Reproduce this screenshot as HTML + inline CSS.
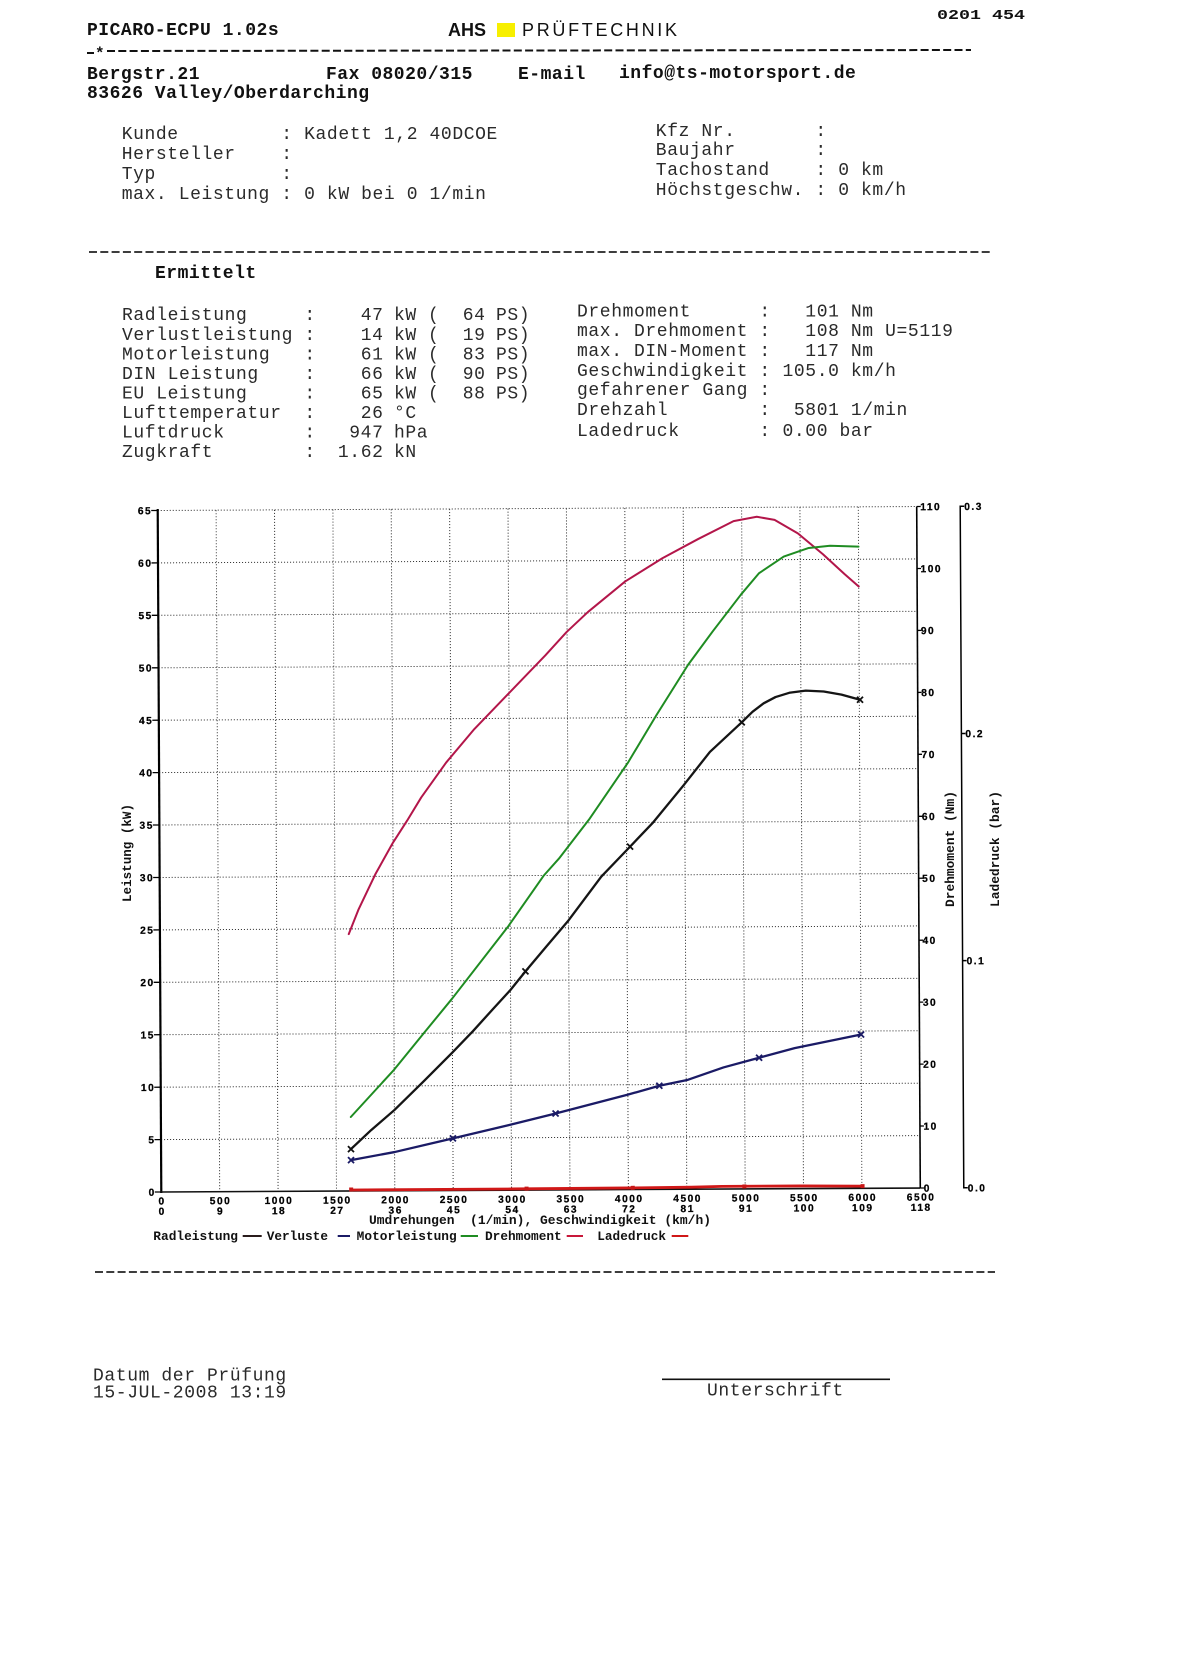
<!DOCTYPE html>
<html><head><meta charset="utf-8"><style>
html,body{margin:0;padding:0;background:#fff;}
svg{display:block;}
text{white-space:pre;}
.m{font-family:"Liberation Mono",monospace;font-size:18px;letter-spacing:0.6px;fill:#2a2a2a;}
.b{font-weight:bold;fill:#111;}
.t{font-family:"Liberation Sans",sans-serif;font-weight:bold;font-size:10.2px;letter-spacing:1.5px;fill:#000;stroke:#000;stroke-width:0.25px;}
.l{font-family:"Liberation Mono",monospace;font-weight:bold;font-size:12.8px;fill:#111;}
</style></head><body>
<svg width="1181" height="1660" viewBox="0 0 1181 1660" xmlns="http://www.w3.org/2000/svg">
<rect width="1181" height="1660" fill="#fff"/>

<!-- Header -->
<text class="m b" x="87" y="35" style="letter-spacing:0.5px">PICARO-ECPU 1.02s</text>
<text x="448" y="36" font-family="Liberation Sans, sans-serif" font-weight="bold" font-size="18" fill="#111">AHS</text>
<rect x="497" y="23" width="18" height="14" fill="#f7ef00"/>
<text x="522" y="36" font-family="Liberation Sans, sans-serif" font-size="18" fill="#111" textLength="155" lengthAdjust="spacing">PRÜFTECHNIK</text>
<text x="937" y="19" font-family="Liberation Mono, monospace" font-weight="bold" font-size="14" fill="#111" textLength="88" lengthAdjust="spacingAndGlyphs">0201 454</text>

<line x1="87" y1="53" x2="94" y2="53" stroke="#111" stroke-width="2"/>
<text x="95" y="58" font-family="Liberation Mono, monospace" font-weight="bold" font-size="16" fill="#111">*</text>
<line x1="107" y1="51" x2="971" y2="50" stroke="#111" stroke-width="2" stroke-dasharray="8 3.3"/>

<text class="m b" x="87" y="79" style="letter-spacing:0.5px">Bergstr.21</text>
<text class="m b" x="326" y="79" style="letter-spacing:0.5px">Fax 08020/315</text>
<text class="m b" x="518" y="79" style="letter-spacing:0.5px">E-mail</text>
<text class="m b" x="619" y="78" style="letter-spacing:0.5px">info@ts-motorsport.de</text>
<text class="m b" x="87" y="98" style="letter-spacing:0.5px">83626 Valley/Oberdarching</text>

<text class="m" x="121.7" y="139">Kunde         : Kadett 1,2 40DCOE</text>
<text class="m" x="121.7" y="159">Hersteller    :</text>
<text class="m" x="121.7" y="179">Typ           :</text>
<text class="m" x="121.7" y="199">max. Leistung : 0 kW bei 0 1/min</text>

<text class="m" x="655.8" y="136">Kfz Nr.       :</text>
<text class="m" x="655.8" y="155">Baujahr       :</text>
<text class="m" x="655.8" y="175">Tachostand    : 0 km</text>
<text class="m" x="655.8" y="195">Höchstgeschw. : 0 km/h</text>

<line x1="89" y1="252" x2="992" y2="252" stroke="#222" stroke-width="1.7" stroke-dasharray="8 3.3"/>

<text class="m b" x="155" y="278" style="letter-spacing:0.5px">Ermittelt</text>

<!-- Left results block -->
<text class="m" x="122" y="320">Radleistung     :</text>
<text class="m" x="122" y="340">Verlustleistung :</text>
<text class="m" x="122" y="359.5">Motorleistung   :</text>
<text class="m" x="122" y="379">DIN Leistung    :</text>
<text class="m" x="122" y="398.5">EU Leistung     :</text>
<text class="m" x="122" y="418">Lufttemperatur  :</text>
<text class="m" x="122" y="437.5">Luftdruck       :</text>
<text class="m" x="122" y="457">Zugkraft        :</text>

<text class="m" x="383.5" y="320" text-anchor="end">47</text>
<text class="m" x="383.5" y="340" text-anchor="end">14</text>
<text class="m" x="383.5" y="359.5" text-anchor="end">61</text>
<text class="m" x="383.5" y="379" text-anchor="end">66</text>
<text class="m" x="383.5" y="398.5" text-anchor="end">65</text>
<text class="m" x="383.5" y="418" text-anchor="end">26</text>
<text class="m" x="383.5" y="437.5" text-anchor="end">947</text>
<text class="m" x="383.5" y="457" text-anchor="end">1.62</text>
<text class="m" x="485.5" y="320" text-anchor="end">64</text>
<text class="m" x="485.5" y="340" text-anchor="end">19</text>
<text class="m" x="485.5" y="359.5" text-anchor="end">83</text>
<text class="m" x="485.5" y="379" text-anchor="end">90</text>
<text class="m" x="485.5" y="398.5" text-anchor="end">88</text>

<text class="m" x="394" y="320">kW</text><text class="m" x="428" y="320">(</text><text class="m" x="496" y="320">PS)</text>
<text class="m" x="394" y="340">kW</text><text class="m" x="428" y="340">(</text><text class="m" x="496" y="340">PS)</text>
<text class="m" x="394" y="359.5">kW</text><text class="m" x="428" y="359.5">(</text><text class="m" x="496" y="359.5">PS)</text>
<text class="m" x="394" y="379">kW</text><text class="m" x="428" y="379">(</text><text class="m" x="496" y="379">PS)</text>
<text class="m" x="394" y="398.5">kW</text><text class="m" x="428" y="398.5">(</text><text class="m" x="496" y="398.5">PS)</text>
<text class="m" x="394" y="418">°C</text>
<text class="m" x="394" y="437.5">hPa</text>
<text class="m" x="394" y="457">kN</text>

<!-- Right results block -->
<text class="m" x="577" y="316.7">Drehmoment      :</text>
<text class="m" x="577" y="336">max. Drehmoment :</text>
<text class="m" x="577" y="356">max. DIN-Moment :</text>
<text class="m" x="577" y="376">Geschwindigkeit :</text>
<text class="m" x="577" y="395">gefahrener Gang :</text>
<text class="m" x="577" y="415">Drehzahl        :</text>
<text class="m" x="577" y="436">Ladedruck       :</text>
<text class="m" x="782.5" y="316.7">  101 Nm</text>
<text class="m" x="782.5" y="336">  108 Nm U=5119</text>
<text class="m" x="782.5" y="356">  117 Nm</text>
<text class="m" x="782.5" y="376">105.0 km/h</text>
<text class="m" x="782.5" y="415"> 5801 1/min</text>
<text class="m" x="782.5" y="436">0.00 bar</text>

<!-- Chart (rotated slightly like the scan) -->
<g transform="rotate(-0.3 540 850)">
  <path d="M159.5 1137.6H918.5M159.5 1085.2H918.5M159.5 1032.7H918.5M159.5 980.3H918.5M159.5 927.9H918.5M159.5 875.5H918.5M159.5 823.0H918.5M159.5 770.6H918.5M159.5 718.2H918.5M159.5 665.8H918.5M159.5 613.3H918.5M159.5 560.9H918.5M159.5 508.5H918.5
  M217.9 508.5V1190M276.3 508.5V1190M334.7 508.5V1190M393.0 508.5V1190M451.4 508.5V1190M509.8 508.5V1190M568.2 508.5V1190M626.6 508.5V1190M685.0 508.5V1190M743.4 508.5V1190M801.7 508.5V1190M860.1 508.5V1190"
   fill="none" stroke="#3a3a3a" stroke-width="1" stroke-dasharray="1.1 1.9"/>
  <line x1="159.5" y1="507" x2="159.5" y2="1191" stroke="#000" stroke-width="2.2"/>
  <line x1="159.5" y1="1190" x2="918.5" y2="1190" stroke="#111" stroke-width="1.6"/>
  <line x1="918.5" y1="508.5" x2="918.5" y2="1190" stroke="#000" stroke-width="1.6"/>
  <path d="M966 508.5H962V1190H966M962 735.7h4M962 962.8h4" fill="none" stroke="#000" stroke-width="1.5"/>
  <path d="M153 1190h6.5M153 1137.6h6.5M153 1085.2h6.5M153 1032.7h6.5M153 980.3h6.5M153 927.9h6.5M153 875.5h6.5M153 823.0h6.5M153 770.6h6.5M153 718.2h6.5M153 665.8h6.5M153 613.3h6.5M153 560.9h6.5M153 508.5h6.5" stroke="#000" stroke-width="1.3"/>
  <path d="M918.5 508.5h4M918.5 570.5h4M918.5 632.4h4M918.5 694.4h4M918.5 756.3h4M918.5 818.3h4M918.5 880.2h4M918.5 942.2h4M918.5 1004.1h4M918.5 1066.1h4M918.5 1128.0h4M918.5 1190h4" stroke="#000" stroke-width="1.3"/>

  <g class="t" text-anchor="end">
    <text x="154" y="1193.7">0</text>
    <text x="154" y="1141.3">5</text>
    <text x="154" y="1088.9">10</text>
    <text x="154" y="1036.4">15</text>
    <text x="154" y="984.0">20</text>
    <text x="154" y="931.6">25</text>
    <text x="154" y="879.2">30</text>
    <text x="154" y="826.7">35</text>
    <text x="154" y="774.3">40</text>
    <text x="154" y="721.9">45</text>
    <text x="154" y="669.5">50</text>
    <text x="154" y="617.0">55</text>
    <text x="154" y="564.6">60</text>
    <text x="154" y="512.2">65</text>
  </g>
  <g class="t">
    <text x="922" y="512.2">110</text>
    <text x="922" y="574.2">100</text>
    <text x="922" y="636.1">90</text>
    <text x="922" y="698.1">80</text>
    <text x="922" y="760.0">70</text>
    <text x="922" y="822.0">60</text>
    <text x="922" y="883.9">50</text>
    <text x="922" y="945.9">40</text>
    <text x="922" y="1007.8">30</text>
    <text x="922" y="1069.8">20</text>
    <text x="922" y="1131.7">10</text>
    <text x="922" y="1193.7">0</text>
    <text x="966" y="512.2">0.3</text>
    <text x="966" y="739.4">0.2</text>
    <text x="966" y="966.5">0.1</text>
    <text x="966" y="1193.7">0.0</text>
  </g>
  <g class="t" text-anchor="middle">
    <text x="160.3" y="1202.5">0</text>
    <text x="218.7" y="1202.5">500</text>
    <text x="277.1" y="1202.5">1000</text>
    <text x="335.5" y="1202.5">1500</text>
    <text x="393.8" y="1202.5">2000</text>
    <text x="452.2" y="1202.5">2500</text>
    <text x="510.6" y="1202.5">3000</text>
    <text x="569.0" y="1202.5">3500</text>
    <text x="627.4" y="1202.5">4000</text>
    <text x="685.8" y="1202.5">4500</text>
    <text x="744.2" y="1202.5">5000</text>
    <text x="802.5" y="1202.5">5500</text>
    <text x="860.9" y="1202.5">6000</text>
    <text x="919.3" y="1202.5">6500</text>
    <text x="160.3" y="1212.8">0</text>
    <text x="218.7" y="1212.8">9</text>
    <text x="277.1" y="1212.8">18</text>
    <text x="335.5" y="1212.8">27</text>
    <text x="393.8" y="1212.8">36</text>
    <text x="452.2" y="1212.8">45</text>
    <text x="510.6" y="1212.8">54</text>
    <text x="569.0" y="1212.8">63</text>
    <text x="627.4" y="1212.8">72</text>
    <text x="685.8" y="1212.8">81</text>
    <text x="744.2" y="1212.8">91</text>
    <text x="802.5" y="1212.8">100</text>
    <text x="860.9" y="1212.8">109</text>
    <text x="919.3" y="1212.8">118</text>
  </g>

  <polyline fill="none" stroke="#b3164a" stroke-width="2" stroke-linejoin="round" stroke-linecap="round"
    points="348.3,933.1 358.0,909.0 375.2,873.4 393.0,841.9 407.3,819.9 421.5,796.8 446.5,762.2 475.0,728.7 510.7,692.0 546.4,655.3 567.7,632.2 589.1,612.3 626.6,581.9 664.1,558.8 699.7,539.9 735.3,522.1 758.5,517.9 776.3,521.1 799.5,534.7 824.5,555.7 845.9,575.6 860.1,588.2"/>
  <polyline fill="none" stroke="#1f8c22" stroke-width="2" stroke-linejoin="round" stroke-linecap="round"
    points="349.4,1116.0 393.0,1068.9 423.4,1031.9 451.4,998.1 508.1,925.8 543.7,875.5 558.9,858.7 589.1,819.9 628.3,763.3 656.9,716.1 688.9,665.8 713.9,632.2 742.4,595.5 760.3,574.5 785.3,557.8 810.3,549.4 831.6,547.3 860.1,548.3"/>
  <polyline fill="none" stroke="#151515" stroke-width="2.3" stroke-linejoin="round" stroke-linecap="round"
    points="349.4,1148.1 369.7,1129.2 393.0,1109.3 422.2,1081.0 451.4,1052.0 472.2,1030.6 492.3,1008.6 509.8,989.7 524.8,971.3 544.8,947.8 568.2,920.5 601.1,877.0 630.1,847.1 653.3,823.0 683.7,786.3 710.4,752.8 742.4,723.4 753.2,712.9 764.4,704.5 776.3,698.3 790.1,694.1 806.6,692.0 824.5,693.0 842.3,696.2 860.8,701.4"/>
  <polyline fill="none" stroke="#1b1b66" stroke-width="2.3" stroke-linejoin="round" stroke-linecap="round"
    points="349.4,1159.1 393.0,1151.3 451.4,1137.9 509.8,1124.4 554.2,1113.6 626.6,1095.1 658.1,1086.4 686.6,1080.6 722.3,1068.4 758.0,1058.9 793.6,1049.5 860.1,1036.2"/>
  <polyline fill="none" stroke="#d01818" stroke-width="2.8" stroke-linejoin="round"
    points="349.4,1189 510,1188.8 627,1188.4 690,1188 720,1187.3 800,1187.3 860.1,1187.8"/>

  <g stroke="#111" stroke-width="1.8" fill="none">
    <path d="M346.4 1145.1l6 6M346.4 1151.1l6-6"/>
    <path d="M521.8 968.3l6 6M521.8 974.3l6-6"/>
    <path d="M627.1 844.1l6 6M627.1 850.1l6-6"/>
    <path d="M739.4 720.4l6 6M739.4 726.4l6-6"/>
    <path d="M857.8 698.4l6 6M857.8 704.4l6-6"/>
  </g>
  <g stroke="#1b1b66" stroke-width="1.8" fill="none">
    <path d="M346.4 1156.1l6 6M346.4 1162.1l6-6"/>
    <path d="M448.4 1134.9l6 6M448.4 1140.9l6-6"/>
    <path d="M551.2 1110.6l6 6M551.2 1116.6l6-6"/>
    <path d="M655.1 1083.4l6 6M655.1 1089.4l6-6"/>
    <path d="M755.0 1055.9l6 6M755.0 1061.9l6-6"/>
    <path d="M857.1 1033.2l6 6M857.1 1039.2l6-6"/>
  </g>
  <g fill="#c81818">
    <rect x="347.4" y="1186.5" width="4" height="4"/>
    <rect x="522.8" y="1186.5" width="4" height="4"/>
    <rect x="629.0" y="1186.3" width="4" height="4"/>
    <rect x="740.6" y="1185.5" width="4" height="4"/>
    <rect x="858.8" y="1185.8" width="4" height="4"/>
  </g>
</g>

<text class="l" x="369" y="1224" textLength="342" lengthAdjust="spacingAndGlyphs">Umdrehungen  (1/min), Geschwindigkeit (km/h)</text>
<text class="l" font-size="12" text-anchor="middle" transform="translate(131 853) rotate(-90)" textLength="98" lengthAdjust="spacingAndGlyphs">Leistung (kW)</text>
<text class="l" font-size="12" text-anchor="middle" transform="translate(954 849) rotate(-90)" textLength="116" lengthAdjust="spacingAndGlyphs">Drehmoment (Nm)</text>
<text class="l" font-size="12" text-anchor="middle" transform="translate(999 849) rotate(-90)" textLength="116" lengthAdjust="spacingAndGlyphs">Ladedruck (bar)</text>

<text class="l" x="153.3" y="1240" textLength="84.7" lengthAdjust="spacingAndGlyphs">Radleistung</text>
<line x1="242.7" y1="1236" x2="261.7" y2="1236" stroke="#2a1c1c" stroke-width="2"/>
<text class="l" x="266.7" y="1240" textLength="61.3" lengthAdjust="spacingAndGlyphs">Verluste</text>
<line x1="337.7" y1="1236" x2="350" y2="1236" stroke="#1b1b66" stroke-width="2"/>
<text class="l" x="356.7" y="1240" textLength="100" lengthAdjust="spacingAndGlyphs">Motorleistung</text>
<line x1="460.7" y1="1236" x2="478" y2="1236" stroke="#1f8c22" stroke-width="2"/>
<text class="l" x="485" y="1240" textLength="76.7" lengthAdjust="spacingAndGlyphs">Drehmoment</text>
<line x1="566.7" y1="1236" x2="583" y2="1236" stroke="#c8183a" stroke-width="2"/>
<text class="l" x="597.3" y="1240" textLength="68.7" lengthAdjust="spacingAndGlyphs">Ladedruck</text>
<line x1="671.7" y1="1236" x2="688.3" y2="1236" stroke="#d01818" stroke-width="2"/>

<line x1="95" y1="1272" x2="995" y2="1272" stroke="#222" stroke-width="1.7" stroke-dasharray="8 3.3"/>
<text class="m" x="93" y="1380.5">Datum der Prüfung</text>
<text class="m" x="93" y="1397.5">15-JUL-2008 13:19</text>
<line x1="662" y1="1379.3" x2="890" y2="1379.3" stroke="#111" stroke-width="1.6"/>
<text class="m" x="707" y="1395.5">Unterschrift</text>
</svg>
</body></html>
